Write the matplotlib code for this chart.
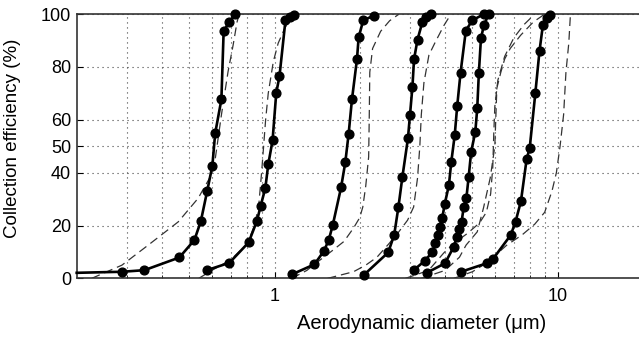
import matplotlib
matplotlib.use('Agg')
import matplotlib.pyplot as plt
from matplotlib.ticker import FixedLocator, NullFormatter

plt.rcParams['font.family'] = ['Liberation Sans', 'DejaVu Sans']

# Measured collection efficiency curves (diameter in um, efficiency in %)
s1_x = [0.20, 0.290, 0.347, 0.461, 0.521, 0.549, 0.578, 0.603, 0.617, 0.649, 0.661, 0.691, 0.727]
s1_y = [2.1, 2.5, 3.1, 7.9, 14.5, 21.6, 33.0, 42.6, 54.9, 67.7, 93.6, 96.9, 100]
s2_x = [0.577, 0.693, 0.810, 0.867, 0.893, 0.928, 0.950, 0.984, 1.014, 1.041, 1.093, 1.136, 1.176]
s2_y = [3.1, 5.9, 13.6, 21.8, 27.4, 34.2, 43.1, 52.2, 70.2, 76.5, 97.7, 99.0, 99.6]
s3_x = [1.152, 1.383, 1.493, 1.554, 1.606, 1.718, 1.778, 1.827, 1.877, 1.955, 1.982, 2.058, 2.239]
s3_y = [1.5, 5.3, 10.3, 14.5, 20.2, 34.4, 43.9, 54.7, 67.7, 82.9, 91.2, 97.7, 99.4]
s4_x = [2.064, 2.52, 2.646, 2.74, 2.83, 2.96, 3.01, 3.07, 3.11, 3.20, 3.33, 3.42, 3.56]
s4_y = [1.2, 9.8, 16.4, 27.1, 38.5, 53.0, 62.0, 72.5, 82.9, 90.4, 97.1, 99.0, 99.9]
s5_x = [3.10, 3.40, 3.61, 3.70, 3.77, 3.83, 3.91, 3.99, 4.13, 4.21, 4.33, 4.42, 4.54, 4.74, 5.00, 5.49]
s5_y = [3.1, 6.7, 10.0, 13.2, 16.5, 19.5, 22.7, 28.0, 35.3, 44.0, 54.2, 65.4, 77.8, 93.8, 97.7, 100]
s6_x = [3.45, 4.00, 4.30, 4.40, 4.50, 4.58, 4.66, 4.76, 4.85, 4.95, 5.12, 5.20, 5.27, 5.36, 5.49, 5.71]
s6_y = [2.1, 5.7, 12.0, 15.5, 18.5, 21.5, 27.0, 30.3, 38.4, 47.9, 55.5, 64.3, 77.8, 90.8, 95.8, 100]
s7_x = [4.56, 5.65, 5.90, 6.83, 7.10, 7.42, 7.77, 7.97, 8.34, 8.63, 8.87, 9.17, 9.43]
s7_y = [2.5, 5.8, 7.2, 16.4, 21.4, 29.2, 45.0, 49.4, 70.0, 86.1, 95.8, 98.4, 99.6]

# Predicted curves (dashed)
d1_x = [0.226, 0.289, 0.358, 0.457, 0.537, 0.590, 0.615, 0.632, 0.649, 0.685, 0.714, 0.737, 0.750]
d1_y = [0, 5, 12.6, 21.4, 30.3, 38, 44, 53, 61.8, 78.2, 88.3, 97, 100]
d2_x = [0.54, 0.60, 0.70, 0.80, 0.85, 0.88, 0.90, 0.915, 0.93, 0.95, 0.99, 1.03, 1.09, 1.16, 1.19]
d2_y = [0, 3, 7, 13, 20, 28, 40, 50, 60, 70, 82, 89, 95, 99, 100]
d3_x = [1.15, 1.30, 1.45, 1.60, 1.76, 1.90, 2.00, 2.05, 2.10, 2.15, 2.16, 2.17, 2.22, 2.37, 2.55, 2.75]
d3_y = [0, 3, 7, 10.5, 14, 19, 23, 27, 35, 46, 60, 78, 87, 93.5, 97.5, 100]
d4_x = [1.54, 1.90, 2.10, 2.30, 2.53, 2.72, 2.95, 3.10, 3.20, 3.26, 3.30, 3.37, 3.51, 3.70, 3.97, 4.20]
d4_y = [0, 2.5, 5, 8, 13, 17, 22, 27, 38, 50, 62, 74, 84.5, 89.5, 95.8, 100]
d5_x = [2.90, 3.50, 3.96, 4.29, 4.80, 5.30, 5.60, 5.80, 5.90, 5.95, 6.00, 6.15, 6.50, 7.00, 7.60, 8.30]
d5_y = [0, 3, 9.6, 13.2, 17, 21, 25, 32, 42, 55, 65, 75, 84, 91, 96, 100]
d6_x = [3.30, 4.00, 4.50, 4.75, 5.20, 5.47, 5.78, 6.00, 6.10, 6.30, 6.50, 6.80, 7.40, 8.20, 9.00]
d6_y = [0, 3, 8, 12.6, 17.6, 26.6, 38, 50, 72, 78, 83, 87, 92, 97, 100]
d7_x = [4.30, 5.00, 5.64, 6.60, 7.50, 8.30, 9.00, 9.55, 9.90, 10.2, 10.5, 10.7, 10.95, 11.1]
d7_y = [0, 2.5, 6, 12.5, 16.5, 20.5, 25, 33, 40, 50, 62, 78, 89, 100]

measured = [(s1_x, s1_y), (s2_x, s2_y), (s3_x, s3_y), (s4_x, s4_y),
            (s5_x, s5_y), (s6_x, s6_y), (s7_x, s7_y)]
predicted = [(d1_x, d1_y), (d2_x, d2_y), (d3_x, d3_y), (d4_x, d4_y),
             (d5_x, d5_y), (d6_x, d6_y), (d7_x, d7_y)]

y_ticks = [0, 20, 40, 50, 60, 80, 100]
x_major = [1, 10]
x_minor = [0.3, 0.4, 0.5, 0.6, 0.7, 0.8, 0.9, 2, 3, 4, 5, 6, 7, 8, 9, 20]

fig = plt.figure(figsize=(6.39, 3.37), dpi=100)
# axes runs a little past the right edge (x up to 20)
ax = fig.add_axes([0.120, 0.174, 0.886, 0.784])
ax.set_xscale('log')
ax.set_xlim(0.2, 20)
ax.set_ylim(0, 100)

grid_style = dict(color='#444444', linestyle=(0, (1, 3.5)), linewidth=0.8)
ax.xaxis.set_major_locator(FixedLocator(x_major))
ax.xaxis.set_minor_locator(FixedLocator(x_minor))
ax.xaxis.set_minor_formatter(NullFormatter())
ax.set_xticklabels(['1', '10'])
ax.set_yticks(y_ticks)
ax.grid(True, which='both', axis='x', **grid_style)
ax.grid(True, which='major', axis='y', **grid_style)
ax.set_axisbelow(True)

for x, y in predicted:
    ax.plot(x, y, color='#333333', linewidth=0.9, dashes=(7, 4))

for i, (x, y) in enumerate(measured):
    # first curve enters from the left edge, no marker there
    mk = slice(1, None) if i == 0 else None
    ax.plot(x, y, color='black', linewidth=1.9, marker='o', markersize=6.3,
            markevery=mk, clip_on=False, zorder=3)

for side in ['left', 'bottom', 'top', 'right']:
    ax.spines[side].set_color('#333333')
    ax.spines[side].set_linewidth(1.2)

ax.tick_params(which='both', direction='in', labelsize=13)
ax.tick_params(axis='y', pad=4)
ax.tick_params(axis='x', pad=7)
ax.tick_params(which='major', length=4)
ax.tick_params(which='minor', length=2)

ax.set_xlabel('Aerodynamic diameter (\u03bcm)', fontsize=14.5)
ax.xaxis.set_label_coords(0.61, -0.135)
ax.set_ylabel('Collection efficiency (%)', fontsize=13.5)
ax.yaxis.set_label_coords(-0.098, 0.53)

fig.savefig('out.png', dpi=100)
